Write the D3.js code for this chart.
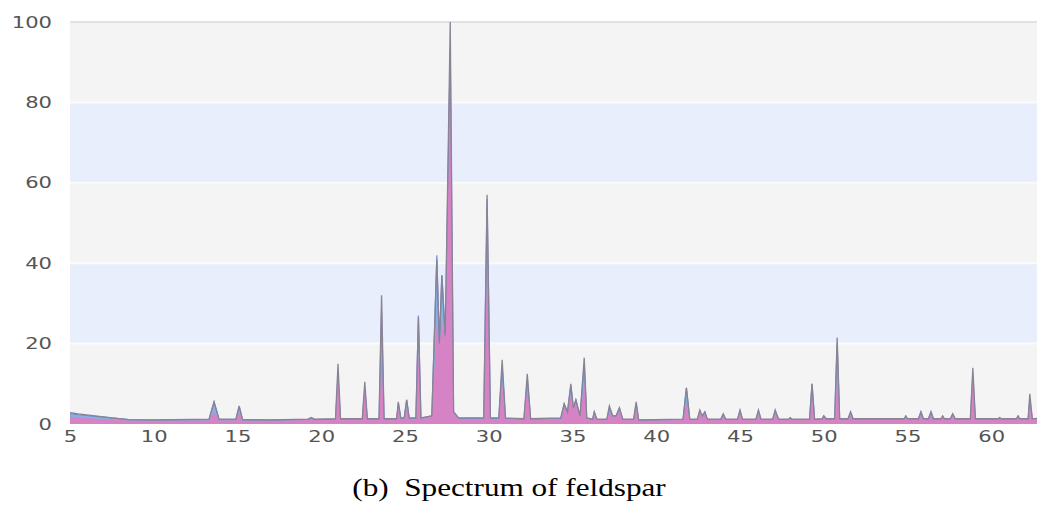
<!DOCTYPE html>
<html><head><meta charset="utf-8">
<script src="https://cdn.jsdelivr.net/npm/d3@7"></script>
<style>body{margin:0;background:#fff}svg{display:block}</style>
</head><body>
<script>
// ---- data (2θ positions and relative intensities) ----
const twoTheta = [
  5.0,5.5,6.5,7.5,8.5,10,
  13.3,13.6,13.9,14.9,15.1,15.3,17,
  19.2,19.4,19.6,20.85,21.0,21.15,
  22.45,22.6,22.75,23.45,23.6,23.75,
  24.5,24.6,24.75,24.95,25.1,25.25,25.65,25.8,25.95,
  26.6,26.9,27.05,27.2,27.4,27.7,27.9,28.2,
  29.7,29.9,30.1,30.6,30.8,31.0,32.1,32.3,32.5,
  34.3,34.5,34.7,34.9,35.05,35.2,35.45,35.7,35.85,
  36.2,36.3,36.45,37.05,37.2,37.4,37.6,37.8,38.0,38.65,38.8,38.95,
  41.6,41.8,42.0,42.45,42.6,42.75,42.9,43.05,
  43.85,44.0,44.15,44.85,45.0,45.15,45.95,46.1,46.25,46.95,47.1,47.3,47.9,48.0,48.1,
  49.15,49.3,49.45,49.9,50.0,50.15,50.65,50.8,50.95,51.45,51.6,51.75,
  54.8,54.9,55.0,55.65,55.8,55.95,56.25,56.4,56.55,57.0,57.1,57.2,57.55,57.7,57.85,
  58.75,58.9,59.05,60.4,60.5,60.6,61.5,61.6,61.7,62.2,62.3,62.45,63
];
const grayCounts = [
  2.8,2.5,2.0,1.5,1.1,1.0,
  1.2,5.5,1.2,1.2,4.5,1.1,1.0,
  1.2,1.6,1.2,1.3,15,1.3,
  1.3,10.5,1.3,1.3,32,1.3,
  1.3,5.5,1.5,1.5,6,1.5,1.5,26.5,1.5,
  2,41,20,37,22,100,3,1.5,
  1.5,57,1.5,1.5,16,1.5,1.3,12.5,1.3,
  1.5,5,3,10,4,6,2,16.5,1.5,
  1.2,3,1.2,1.2,4.5,2,2,4,1.2,1.2,5.5,1.0,
  1.2,9,1.2,1.2,3.5,2,3,1.2,
  1.2,2.5,1.2,1.2,3.5,1.2,1.2,3.5,1.2,1.2,3.5,1.2,1.2,1.6,1.2,
  1.2,10,1.2,1.3,2,1.3,1.3,21.5,1.3,1.3,3,1.3,
  1.3,2,1.3,1.3,3,1.3,1.3,3,1.3,1.3,2,1.3,1.3,2.5,1.3,
  1.3,14,1.3,1.3,1.6,1.3,1.3,2,1.3,1.3,7.5,1.3,1.5
];
const blueCounts = [
  2.5,2.3,1.9,1.5,1.1,1.0,
  1.1,5.5,1.1,1.1,4.3,1.0,1.0,
  1.1,1.5,1.1,1.2,12,1.2,
  1.2,9,1.2,1.2,28,1.2,
  1.2,5,1.4,1.4,6,1.4,1.4,27,1.4,
  2,42,20,37,22,93,3,1.4,
  1.4,56,1.4,1.4,14,1.4,1.2,11,1.2,
  1.4,5,3,9.5,4,6,2,15,1.4,
  1.1,3,1.1,1.1,4,2,2,4,1.1,1.1,5,1.0,
  1.1,9,1.1,1.1,3,2,3,1.1,
  1.1,2.5,1.1,1.1,3.2,1.1,1.1,3.2,1.1,1.1,3.2,1.1,1.1,1.5,1.1,
  1.1,10,1.1,1.2,2,1.2,1.2,20,1.2,1.2,3,1.2,
  1.2,2,1.2,1.2,3,1.2,1.2,3,1.2,1.2,2,1.2,1.2,2.5,1.2,
  1.2,12,1.2,1.2,1.5,1.2,1.2,2,1.2,1.2,6,1.2,1.4
];
const pinkCounts = [
  1.8,1.6,1.3,1.1,0.9,0.8,
  0.9,3.0,0.9,0.9,3.0,0.8,0.8,
  1.0,1.2,1.0,1.0,14,1.0,
  1.0,10,1.0,1.0,18,1.0,
  1.0,4,1.2,1.2,4,1.2,1.2,18,1.2,
  1.8,25,20,25,22,85,3,1.2,
  1.2,40,1.2,1.2,10,1.2,1.0,9,1.0,
  1.2,4,3,7,4,5,2,10,1.2,
  1.0,2,1.0,1.0,3,1.8,1.8,3.5,1.0,1.0,4,0.8,
  1.0,5,1.0,1.0,3,1.8,2.5,1.0,
  1.0,2,1.0,1.0,2.5,1.0,1.0,2.5,1.0,1.0,2.5,1.0,1.0,1.3,1.0,
  1.0,6,1.0,1.0,1.8,1.0,1.0,12,1.0,1.0,2,1.0,
  1.0,1.6,1.0,1.0,2.2,1.0,1.0,2.2,1.0,1.0,1.6,1.0,1.0,2,1.0,
  1.0,13,1.0,1.0,1.3,1.0,1.0,1.6,1.0,1.0,5,1.0,1.2
];
const xTicks = [5,10,15,20,25,30,35,40,45,50,55,60];
const yTicks = [0,20,40,60,80,100];
const bandStops = [0,20,40,60,80,100];
const caption = "(b)  Spectrum of feldspar";

// ---- layout ----
const W = 1037, H = 522;
const svg = d3.select("body").append("svg").attr("width", W).attr("height", H);
const x = d3.scaleLinear().domain([5, 62.73]).range([70, 1037]);
const y = d3.scaleLinear().domain([0, 100]).range([424, 22]);

// bands
const bands = d3.pairs(bandStops);
svg.append("g").selectAll("rect").data(bands).join("rect")
  .attr("x", x(5)).attr("width", x(62.73) - x(5))
  .attr("y", d => y(d[1])).attr("height", d => y(d[0]) - y(d[1]))
  .attr("fill", (d, i) => i % 2 === 0 ? "#f4f4f4" : "#e8eefc");
svg.append("g").selectAll("line").data(yTicks.filter(v => v > 0)).join("line")
  .attr("x1", x(5)).attr("x2", W)
  .attr("y1", d => y(d)).attr("y2", d => y(d))
  .attr("stroke", d => d === 100 ? "#e2e2e2" : "#fbfbfb").attr("stroke-width", 2);

const pts = twoTheta.map((t, i) => ({t, g: grayCounts[i], b: blueCounts[i], p: pinkCounts[i]}));
svg.append("clipPath").attr("id", "c").append("rect")
  .attr("x", x(5)).attr("y", 0).attr("width", W - x(5)).attr("height", y(0) + 2);
const plot = svg.append("g").attr("clip-path", "url(#c)");

const areaOf = k => d3.area().x(d => x(d.t)).y0(y(0)).y1(d => y(d[k]));
const lineOf = k => d3.line().x(d => x(d.t)).y(d => y(d[k]));

plot.append("path").datum(pts).attr("d", areaOf("b")).attr("fill", "#74a4de").attr("fill-opacity", 0.85);
plot.append("path").datum(pts).attr("d", lineOf("b")).attr("fill", "none").attr("stroke", "#6d8fd6").attr("stroke-width", 1.2);
plot.append("path").datum(pts).attr("d", areaOf("p")).attr("fill", "#de7ec2").attr("fill-opacity", 0.9);
plot.append("path").datum(pts).attr("d", lineOf("g")).attr("fill", "none").attr("stroke", "#8a8394").attr("stroke-width", 1.3);

// axes (labels horizontally stretched like the reference)
const labelFont = g => g.selectAll("text").attr("fill", "#555")
  .attr("font-family", "DejaVu Sans, sans-serif").attr("font-size", 16)
  .attr("transform", "scale(1.32,1)");
const yAxis = d3.axisLeft(y).tickValues(yTicks).tickSize(0).tickPadding(0);
svg.append("g").attr("transform", "translate(52,0)").call(yAxis)
  .call(g => g.select(".domain").remove()).call(labelFont);

const xAxis = d3.axisBottom(x).tickValues(xTicks).tickSize(0).tickPadding(0);
svg.append("g").attr("transform", "translate(0,431)").call(xAxis)
  .call(g => g.select(".domain").remove()).call(labelFont);

svg.append("text").attr("transform", "translate(509,496) scale(1.2,1)").attr("text-anchor", "middle")
  .attr("font-family", "Liberation Serif, Times New Roman, serif").attr("font-size", 26)
  .style("white-space", "pre").attr("fill", "#000").text(caption);
</script>
</body></html>
